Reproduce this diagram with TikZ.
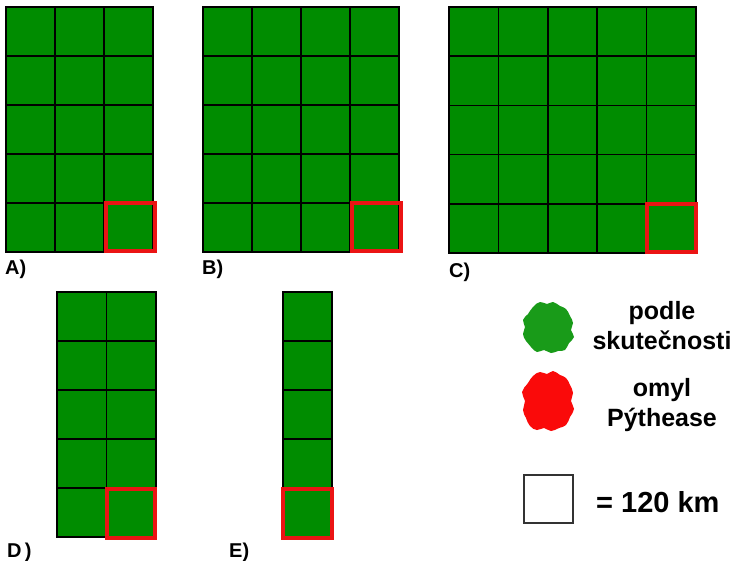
\documentclass[tikz,border=0pt]{standalone}
\usepackage{fontspec}
\setmainfont{Liberation Sans}
\definecolor{ggreen}{RGB}{0,140,0}
\definecolor{bgreen}{RGB}{25,155,25}
\definecolor{rred}{RGB}{235,20,20}
\definecolor{bred}{RGB}{250,10,10}
\begin{document}
\begin{tikzpicture}[x=1pt,y=-1pt,
  cell/.style={fill=ggreen,draw=black,line width=1.6pt},
  wrong/.style={draw=rred,line width=3.8pt},
  lab/.style={font=\bfseries\fontsize{20}{20}\selectfont,anchor=base west,inner sep=0pt},
  leg/.style={font=\bfseries\fontsize{25}{30}\selectfont,align=center,inner sep=0pt}]
\useasboundingbox (0,0) rectangle (739,560);
% A
\foreach \i in {0,...,2} \foreach \j in {0,...,4}
  \draw[cell] (6+49*\i,7+49*\j) rectangle ++(49,49);
\draw[wrong] (106,203) rectangle (155,251);
\node[lab] (la) at (5,274) {A)};
% B
\foreach \i in {0,...,3} \foreach \j in {0,...,4}
  \draw[cell] (203+49*\i,7+49*\j) rectangle ++(49,49);
\draw[wrong] (352,203) rectangle (401,251);
\node[lab] (lb) at (202,274) {B)};
% C
\foreach \i in {0,...,4} \foreach \j in {0,...,4}
  \draw[cell] (449+49.4*\i,7+49.2*\j) rectangle ++(49.4,49.2);
\draw[wrong] (647,203.8) rectangle (696,252);
\node[lab] (lc) at (449,277) {C)};
% D
\foreach \i in {0,...,1} \foreach \j in {0,...,4}
  \draw[cell] (57+49.5*\i,292+49*\j) rectangle ++(49.5,49);
\draw[wrong] (107,489) rectangle (155,538);
\node[lab] (ld) at (7,557) {D\,)};
% E
\foreach \j in {0,...,4}
  \draw[cell] (283,292+49*\j) rectangle ++(49,49);
\draw[wrong] (283,489) rectangle (332,538);
\node[lab] (le) at (229,557) {E)};
% legend blobs
\fill[bgreen] plot[smooth cycle,tension=0.75] coordinates {
  (528,314) (533,307) (540,302) (547,304) (553,302) (560,306) (566,309)
  (570,316) (573,323) (571,330) (574,337) (569,343) (565,350) (558,351)
  (551,353) (544,350) (537,352) (531,347) (526,341) (523,334) (525,327)
  (523,320)};
\fill[bred] plot[smooth cycle,tension=0.75] coordinates {
  (528,383) (533,376) (540,372) (547,374) (553,371) (560,375) (566,378)
  (570,385) (573,393) (571,401) (574,409) (570,417) (566,425) (559,428)
  (551,431) (544,428) (537,430) (530,426) (526,418) (523,410) (525,401)
  (522,392)};
\node[leg] (t1) at (662,326) {podle\\skutečnosti};
\node[leg] (t2) at (662,405) {omyl\\Pýthease};
\draw[draw=black!80,line width=1.2pt] (524,475) rectangle (573,523);
\node[leg,anchor=base west,font=\bfseries\fontsize{29}{29}\selectfont] (t3) at (596,512) {= 120 km};
\end{tikzpicture}
\end{document}
